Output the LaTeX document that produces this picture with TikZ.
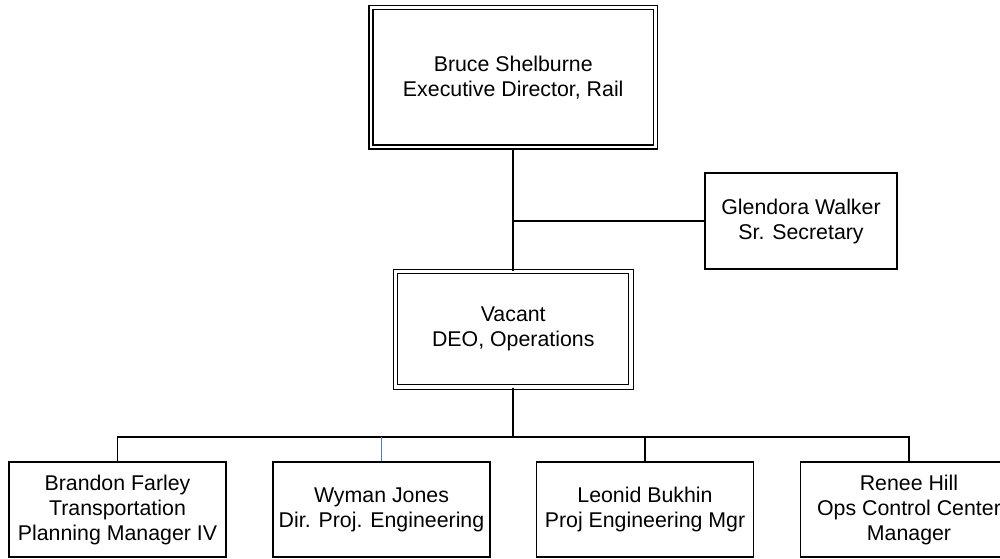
\documentclass[tikz,border=0pt]{standalone}
\usepackage{fontspec}
\setmainfont{Liberation Sans}
\definecolor{linkblue}{HTML}{4A7EBB}
\begin{document}
\begin{tikzpicture}[x=0.75pt,y=-0.75pt,
  every node/.style={font=\fontsize{16}{18.75}\selectfont, align=center, inner sep=0pt},
  plainbox/.style={draw, line width=1.3*0.75pt, rectangle, minimum width=217*0.75pt, minimum height=95*0.75pt},
  bossbox/.style={draw, double, line width=1.6*0.75pt, double distance=2.6*0.75pt, minimum width=284.5*0.75pt, minimum height=139.5*0.75pt},
  deobox/.style={draw, double, line width=1.1*0.75pt, double distance=3.2*0.75pt, minimum width=235.5*0.75pt, minimum height=115.5*0.75pt},
  link/.style={line width=1.3*0.75pt},
  thicklink/.style={line width=2*0.75pt}]
\clip (0,0) rectangle (1000,558);
\fill[white] (0,0) rectangle (1000,558);
\node[bossbox] (top) at (513.25,77.25) {Bruce Shelburne\\Executive Director, Rail};
\node[plainbox, minimum width=192*0.75pt, minimum height=96*0.75pt] (glen) at (801,221) {Glendora Walker\\Sr. Secretary};
\node[deobox] (vac) at (513.25,329.25) {Vacant\\DEO, Operations};
\node[plainbox] (b1) at (117.5,509.5) {Brandon Farley\\Transportation\\Planning Manager IV};
\node[plainbox] (b2) at (381.5,509.5) {Wyman Jones\\Dir. Proj. Engineering};
\node[plainbox] (b3) at (645,509.5) {Leonid Bukhin\\Proj Engineering Mgr};
\node[plainbox] (b4) at (909,509.5) {Renee Hill\\Ops Control Center\\Manager};
\coordinate (bus) at (513.25,437);
\draw[thicklink] (top.south) -- (vac.north);
\draw[link] (glen.west) -- (glen.west -| top.south);
\draw[thicklink] (vac.south) -- (bus);
\draw[link] (b1.north) -- (b1.north |- bus) -- (b4.north |- bus) -- (b4.north);
\draw[link, linkblue, line width=1.1*0.75pt] (b2.north) -- (b2.north |- bus);
\draw[link] (b3.north) -- (b3.north |- bus);
\end{tikzpicture}
\end{document}
